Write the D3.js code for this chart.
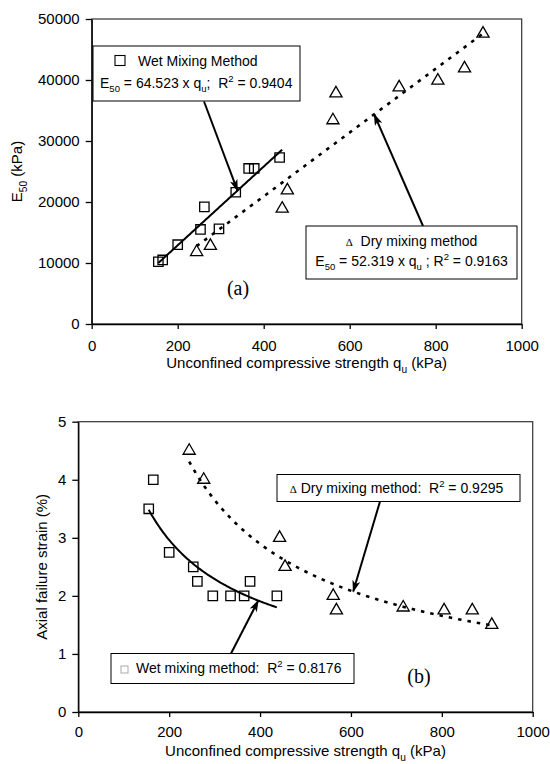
<!DOCTYPE html>
<html lang="en">
<head>
<meta charset="UTF-8">
<title>E50 and axial failure strain vs qu</title>
<script src="https://cdn.jsdelivr.net/npm/d3@7"></script>
<style>
  body { margin: 0; background: #fff; }
  svg text { font-family: "Liberation Sans", Arial, sans-serif; fill: #000; }
  .axis path, .axis line { stroke: #000; stroke-width: 1.3; }
  .axis text { font-size: 15px; font-family: "Liberation Sans", Arial, sans-serif; }
  .frame { fill: none; stroke: #333; stroke-width: 1.2; }
  .box { fill: #fff; stroke: #000; stroke-width: 1; }
  .pt { fill: none; stroke: #000; stroke-width: 1.3; }
  .arrow { stroke: #000; stroke-width: 2; }
</style>
</head>
<body>
<svg id="chart" width="550" height="764"></svg>
<script>
    // sample strengths (kPa), shared by both panels
    var wetQu = [155, 165, 200, 253, 262, 296, 335, 365, 378, 437];
    var dryQu = [244, 276, 443, 455, 561, 568, 715, 805, 867, 910];

    // (a) secant modulus E50 (kPa)
    var wetE50 = [10200, 10500, 13000, 15500, 19200, 15600, 21600, 25500, 25500, 27300];
    var dryE50 = [11800, 12800, 18900, 21900, 33400, 37800, 38800, 39900, 41900, 47600];

    // (b) axial failure strain (%)
    var wetStrain = [3.5, 4.0, 2.75, 2.5, 2.25, 2.0, 2.0, 2.0, 2.25, 2.0];
    var dryStrain = [4.5, 4.0, 3.0, 2.5, 2.0, 1.75, 1.8, 1.75, 1.75, 1.5];

    // fitted slopes printed on panel (a)
    var wetSlope = 64.523, drySlope = 52.319;

    var quTicks = [0, 200, 400, 600, 800, 1000];
    var e50Ticks = [0, 10000, 20000, 30000, 40000, 50000];
    var strainTicks = [0, 1, 2, 3, 4, 5];

    var svg = d3.select("#chart");

    svg.append("defs").append("marker")
        .attr("id", "head")
        .attr("markerUnits", "userSpaceOnUse")
        .attr("viewBox", "0 0 12 8")
        .attr("refX", 11).attr("refY", 4)
        .attr("markerWidth", 12).attr("markerHeight", 8)
        .attr("orient", "auto")
        .append("path")
        .attr("d", "M0,0 L12,4 L0,8 L3,4 z")
        .attr("fill", "#000");

    var square = d3.symbol().type(d3.symbolSquare).size(88);
    var triangle = d3.symbol().type(d3.symbolTriangle).size(64);

    function linearFit(k) {
        return function (q) { return k * q; };
    }

    function powerFit(xs, ys) {
        var lx = xs.map(Math.log), ly = ys.map(Math.log);
        var mx = d3.mean(lx), my = d3.mean(ly);
        var sxy = d3.sum(lx, function (v, i) { return (v - mx) * (ly[i] - my); });
        var sxx = d3.sum(lx, function (v) { return (v - mx) * (v - mx); });
        var b = sxy / sxx;
        var a = Math.exp(my - b * mx);
        return function (q) { return a * Math.pow(q, b); };
    }

    // text with sub/superscript parts: [text, "sub"|"sup"|null, font, size]
    function richText(g, x, y, parts, anchor, size) {
        var t = g.append("text")
            .attr("x", x).attr("y", y)
            .attr("text-anchor", anchor)
            .style("font-size", size + "px")
            .style("white-space", "pre");
        var shift = 0;
        parts.forEach(function (p) {
            var s = p[1] === "sub" ? size * 0.3 : p[1] === "sup" ? -size * 0.4 : 0;
            var ts = t.append("tspan").attr("dy", s - shift).text(p[0]);
            if (p[1]) ts.style("font-size", (size * 0.68) + "px");
            if (p[2]) ts.style("font-family", p[2]).style("font-size", p[3] + "px");
            shift = s;
        });
        return t;
    }

    function panel(cfg) {
        var x = d3.scaleLinear().domain([0, 1000]).range([cfg.left, cfg.right]);
        var y = d3.scaleLinear().domain(cfg.yDomain).range([cfg.bottom, cfg.top]);
        var g = svg.append("g");

        g.append("rect").attr("class", "frame")
            .attr("x", cfg.left).attr("y", cfg.top)
            .attr("width", cfg.right - cfg.left).attr("height", cfg.bottom - cfg.top);

        g.append("g").attr("class", "axis")
            .attr("transform", "translate(0," + cfg.bottom + ")")
            .call(d3.axisBottom(x).tickValues(quTicks).tickSize(5).tickSizeOuter(0).tickPadding(cfg.xPad)
                .tickFormat(d3.format("d")));

        g.append("g").attr("class", "axis")
            .attr("transform", "translate(" + cfg.left + ",0)")
            .call(d3.axisLeft(y).tickValues(cfg.yTicks).tickSize(6).tickSizeOuter(0).tickPadding(6)
                .tickFormat(d3.format("d")));

        g.selectAll(".axis text").attr("fill", "#000");

        richText(g, (cfg.left + cfg.right) / 2, cfg.bottom + 44,
            [["Unconfined compressive strength q"], ["u", "sub"], [" (kPa)"]], "middle", 15);

        richText(g, 0, 0, cfg.yTitle, "middle", 15)
            .attr("transform", "translate(" + cfg.yTitleX + "," + ((cfg.top + cfg.bottom) / 2) + ") rotate(-90)");

        // fit curves
        var line = function (f, lo, hi) {
            return d3.line()
                .x(function (q) { return x(q); })
                .y(function (q) { return y(f(q)); })(d3.range(0, 81).map(function (i) { return lo + (hi - lo) * i / 80; }));
        };
        g.append("path")
            .attr("d", line(cfg.wetFit, d3.min(wetQu), cfg.wetEnd || d3.max(wetQu)))
            .attr("fill", "none").attr("stroke", "#000").attr("stroke-width", 2);
        g.append("path")
            .attr("d", line(cfg.dryFit, d3.min(dryQu), d3.max(dryQu)))
            .attr("fill", "none").attr("stroke", "#000").attr("stroke-width", 2.6)
            .attr("stroke-dasharray", "3.5,6");

        // points
        g.selectAll(".wet").data(wetQu).enter().append("path")
            .attr("class", "pt wet")
            .attr("d", square)
            .attr("transform", function (q, i) { return "translate(" + x(q) + "," + y(cfg.wetY[i]) + ")"; });
        g.selectAll(".dry").data(dryQu).enter().append("path")
            .attr("class", "pt dry")
            .attr("d", triangle)
            .attr("transform", function (q, i) { return "translate(" + x(q) + "," + y(cfg.dryY[i]) + ")"; });

        return { g: g, x: x, y: y };
    }

    function arrow(g, x1, y1, x2, y2) {
        g.append("line").attr("class", "arrow")
            .attr("x1", x1).attr("y1", y1).attr("x2", x2).attr("y2", y2)
            .attr("marker-end", "url(#head)");
    }

    function box(g, x, y, w, h) {
        g.append("rect").attr("class", "box").attr("x", x).attr("y", y).attr("width", w).attr("height", h);
    }

    // ---------- (a) ----------
    var wetLinA = linearFit(wetSlope), dryLinA = linearFit(drySlope);
    var a = panel({
        left: 91.7, right: 521.7, top: 19, bottom: 324,
        yDomain: [0, 50000], yTicks: e50Ticks, xPad: 11,
        yTitle: [["E"], ["50", "sub"], [" (kPa)"]], yTitleX: 22,
        wetY: wetE50, dryY: dryE50,
        wetFit: wetLinA, dryFit: dryLinA, wetEnd: 443
    });

    arrow(a.g, 204, 101.5, a.x(339), a.y(wetLinA(339)));
    arrow(a.g, 423, 226, a.x(657), a.y(dryLinA(657)));

    box(a.g, 93, 46, 207, 55);
    a.g.append("rect").attr("x", 115).attr("y", 55.5).attr("width", 10).attr("height", 10)
        .attr("fill", "none").attr("stroke", "#000").attr("stroke-width", 1.1);
    richText(a.g, 138, 66, [["Wet Mixing Method"]], "start", 14);
    richText(a.g, 100, 88, [["E"], ["50", "sub"], [" = 64.523 x q"], ["u", "sub"], [";  R"], ["2", "sup"], [" = 0.9404"]], "start", 14);

    box(a.g, 306, 226, 211, 53);
    richText(a.g, 411.5, 246, [["\u0394", null, "Liberation Serif", 11], ["  Dry mixing method"]], "middle", 14);
    richText(a.g, 411.5, 266, [["E"], ["50", "sub"], [" = 52.319 x q"], ["u", "sub"], [" ; R"], ["2", "sup"], [" = 0.9163"]], "middle", 14);

    a.g.append("text").attr("x", 238).attr("y", 295).attr("text-anchor", "middle")
        .style("font-family", "'Liberation Serif', 'Times New Roman', serif").style("font-size", "20px")
        .text("(a)");

    // ---------- (b) ----------
    var wetPowB = powerFit(wetQu, wetStrain), dryPowB = powerFit(dryQu, dryStrain);
    var b = panel({
        left: 78.3, right: 532.7, top: 421.7, bottom: 712,
        yDomain: [0, 5], yTicks: strainTicks, xPad: 9,
        yTitle: [["Axial failure strain (%)"]], yTitleX: 47,
        wetY: wetStrain, dryY: dryStrain,
        wetFit: wetPowB, dryFit: dryPowB
    });

    arrow(b.g, 380, 501.5, b.x(605), b.y(dryPowB(605)));
    arrow(b.g, 231, 653.5, b.x(396), b.y(wetPowB(396)));

    box(b.g, 277, 474.5, 243, 27);
    richText(b.g, 396.5, 493, [["\u0394", null, "Liberation Serif", 11], [" Dry mixing method:  R"], ["2", "sup"], [" = 0.9295"]], "middle", 14);

    box(b.g, 111, 653.5, 243, 30);
    b.g.append("rect").attr("x", 121).attr("y", 666).attr("width", 7).attr("height", 7)
        .attr("fill", "none").attr("stroke", "#aaa").attr("stroke-width", 1);
    richText(b.g, 136, 673, [["Wet mixing method:  R"], ["2", "sup"], [" = 0.8176"]], "start", 14);

    b.g.append("text").attr("x", 419).attr("y", 683).attr("text-anchor", "middle")
        .style("font-family", "'Liberation Serif', 'Times New Roman', serif").style("font-size", "20px")
        .text("(b)");
</script>
</body>
</html>
